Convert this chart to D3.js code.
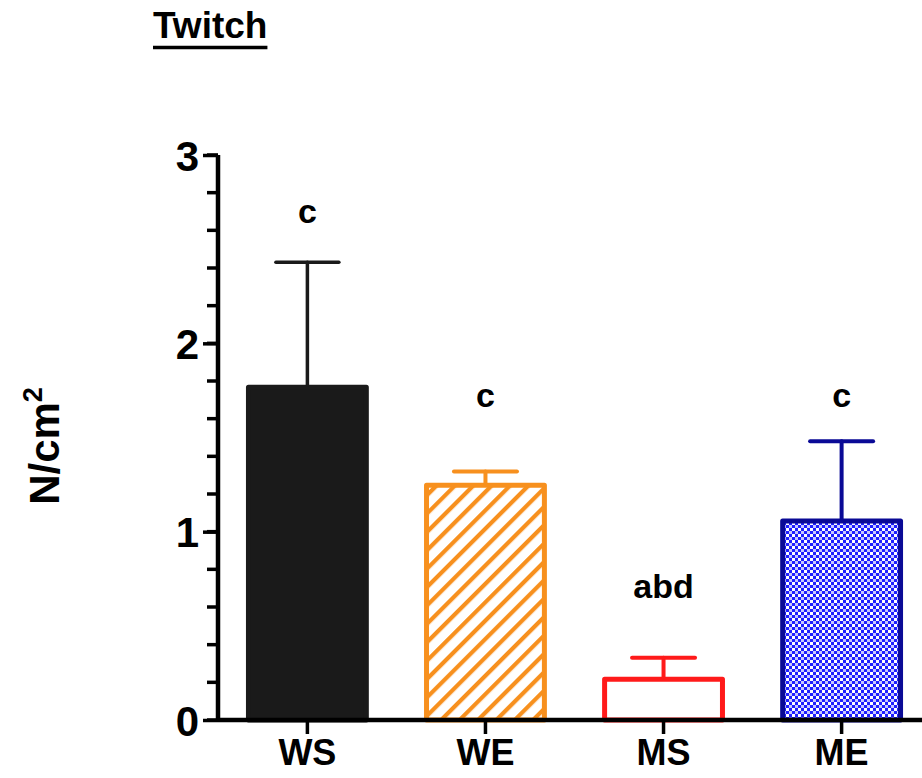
<!DOCTYPE html>
<html>
<head>
<meta charset="utf-8">
<script src="https://cdn.jsdelivr.net/npm/d3@7/dist/d3.min.js"></script>
<style>
  html, body { margin: 0; padding: 0; background: #fff; }
  svg { display: block; font-family: "Liberation Sans", Arial, Helvetica, sans-serif; }
</style>
</head>
<body>
<svg id="chart" width="922" height="778"></svg>
<script>
// Twitch force per group (N/cm²), mean with upward SD whisker
const groups = ["WS", "WE", "MS", "ME"];
const means = [1.78, 1.26, 0.23, 1.07];
const errors = [0.65, 0.06, 0.10, 0.41];
const sigLetters = ["c", "c", "abd", "c"];
const sigHeights = [2.64, 1.66, 0.65, 1.66];
const yTicks = [0, 1, 2, 3];
const yMinorTicks = d3.range(0, 3.0001, 0.2);

const strokeColors = ["#1a1a1a", "#f7901e", "#ff1a1a", "#0a0a96"];

const svg = d3.select("#chart");
const axisX = 218, axisY = 720;

const x = d3.scaleBand().domain(groups).range([axisX, 931])
  .paddingInner(0.31).paddingOuter(0.157);
const y = d3.scaleLinear().domain([0, 3]).range([axisY, 155]);

// fill patterns
const defs = svg.append("defs");
const hatch = defs.append("pattern")
  .attr("id", "hatch").attr("patternUnits", "userSpaceOnUse")
  .attr("width", 13).attr("height", 13)
  .attr("patternTransform", "rotate(45)");
hatch.append("rect").attr("width", 13).attr("height", 13).attr("fill", "#fff");
hatch.append("rect").attr("x", 0).attr("y", 0).attr("width", 4.2).attr("height", 13).attr("fill", "#f7901e");

const check = defs.append("pattern")
  .attr("id", "check").attr("patternUnits", "userSpaceOnUse")
  .attr("width", 6).attr("height", 6);
check.append("rect").attr("width", 6).attr("height", 6).attr("fill", "#1f1fff");
check.append("rect").attr("x", 0).attr("y", 0).attr("width", 3).attr("height", 3).attr("fill", "#ffffff");
check.append("rect").attr("x", 3).attr("y", 3).attr("width", 3).attr("height", 3).attr("fill", "#c8c8ff");

const fills = ["#1a1a1a", "url(#hatch)", "#ffffff", "url(#check)"];

// bars
const sw = 5;
svg.append("g").selectAll("rect").data(groups).join("rect")
  .attr("x", d => x(d) + sw / 2)
  .attr("y", (d, i) => y(means[i]) + sw / 2)
  .attr("width", x.bandwidth() - sw)
  .attr("height", (d, i) => y(0) - y(means[i]) - sw / 2)
  .attr("fill", (d, i) => fills[i])
  .attr("stroke", (d, i) => strokeColors[i])
  .attr("stroke-width", sw)
  .attr("stroke-linejoin", "round");

// error whiskers
const capHalf = 31.5;
const eb = svg.append("g").selectAll("g").data(groups).join("g")
  .attr("stroke", (d, i) => strokeColors[i])
  .attr("stroke-width", (d, i) => i === 0 ? 3.5 : 4)
  .attr("stroke-linecap", "round");
eb.append("line")
  .attr("x1", d => x(d) + x.bandwidth() / 2)
  .attr("x2", d => x(d) + x.bandwidth() / 2)
  .attr("y1", (d, i) => y(means[i]))
  .attr("y2", (d, i) => y(means[i] + errors[i]));
eb.append("line")
  .attr("x1", d => x(d) + x.bandwidth() / 2 - capHalf)
  .attr("x2", d => x(d) + x.bandwidth() / 2 + capHalf)
  .attr("y1", (d, i) => y(means[i] + errors[i]))
  .attr("y2", (d, i) => y(means[i] + errors[i]));

// significance letters
svg.append("g").selectAll("text").data(groups).join("text")
  .attr("x", d => x(d) + x.bandwidth() / 2)
  .attr("y", (d, i) => y(sigHeights[i]))
  .attr("text-anchor", "middle")
  .attr("font-size", 34).attr("font-weight", "bold")
  .text((d, i) => sigLetters[i]);

// y axis
const yAxis = svg.append("g").attr("transform", `translate(${axisX},0)`);
yAxis.append("g").selectAll("line").data(yMinorTicks).join("line")
  .attr("x1", -11).attr("x2", 0)
  .attr("y1", d => y(d)).attr("y2", d => y(d))
  .attr("stroke", "#000").attr("stroke-width", 3.5);
yAxis.call(d3.axisLeft(y).tickValues(yTicks).tickFormat(d3.format("d"))
  .tickSize(15).tickPadding(4));
yAxis.select(".domain").attr("d", `M0,${y(3)}V${y(0)}`)
  .attr("stroke", "#000").attr("stroke-width", 4.5);
yAxis.selectAll(".tick line").attr("stroke", "#000").attr("stroke-width", 3.5);
yAxis.selectAll(".tick text").attr("font-size", 42).attr("font-weight", "bold")
  .attr("fill", "#000").attr("dy", "0.36em")
  .attr("font-family", "'Liberation Sans', Arial, sans-serif");

// x axis
const xAxis = svg.append("g").attr("transform", `translate(0,${axisY})`);
xAxis.call(d3.axisBottom(x).tickSize(14).tickPadding(6));
xAxis.select(".domain").attr("d", `M${axisX},0H922`)
  .attr("stroke", "#000").attr("stroke-width", 4.5);
xAxis.selectAll(".tick line").attr("stroke", "#000").attr("stroke-width", 3.5);
xAxis.selectAll(".tick text").attr("font-size", 36).attr("font-weight", "bold")
  .attr("fill", "#000").attr("dy", "0.7em")
  .attr("font-family", "'Liberation Sans', Arial, sans-serif");

// y axis title
const yTitle = svg.append("text")
  .attr("transform", "translate(59,446) rotate(-90)")
  .attr("text-anchor", "middle")
  .attr("font-size", 42).attr("font-weight", "bold");
yTitle.append("tspan").text("N/cm");
yTitle.append("tspan").attr("font-size", 27).attr("dy", "-17").text("2");

// chart title, underlined
const title = svg.append("text")
  .attr("x", 153).attr("y", 38)
  .attr("font-size", 37).attr("font-weight", "bold")
  .text("Twitch");
const tw = title.node().getComputedTextLength();
svg.append("line")
  .attr("x1", 153).attr("x2", 153 + tw)
  .attr("y1", 47.5).attr("y2", 47.5)
  .attr("stroke", "#000").attr("stroke-width", 3.5);
</script>
</body>
</html>
